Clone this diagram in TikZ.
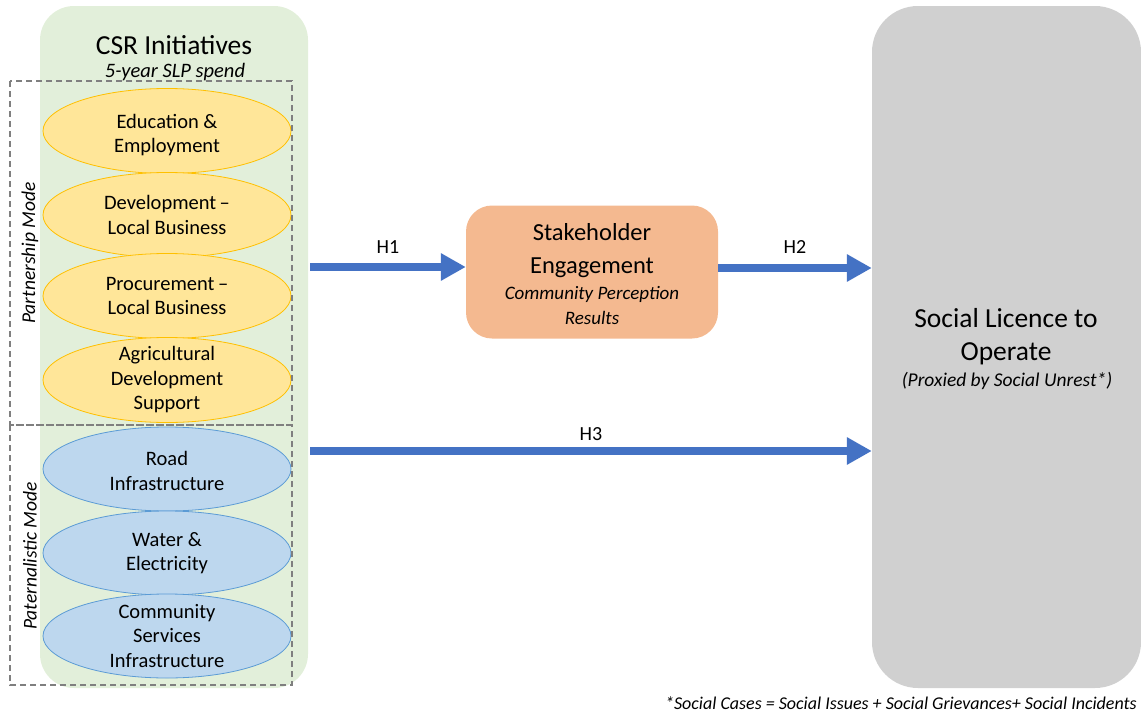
\documentclass[tikz,border=0pt]{standalone}
\usepackage{fontspec}
\setmainfont{Carlito}
\usetikzlibrary{arrows.meta,shapes.geometric}
\definecolor{csrgreen}{HTML}{E2EFDA}
\definecolor{partfill}{HTML}{FFE699}
\definecolor{partline}{HTML}{FFC000}
\definecolor{patfill}{HTML}{BDD7EE}
\definecolor{patline}{HTML}{5B9BD5}
\definecolor{engfill}{HTML}{F4B990}
\definecolor{slofill}{HTML}{D0D0D0}
\definecolor{hblue}{HTML}{4472C4}
\definecolor{modegray}{HTML}{7F7F7F}
\newcommand{\fs}[1]{\fontsize{#1}{1.22\dimexpr #1pt\relax}\selectfont}
\newcommand{\fsl}[2]{\fontsize{#1}{#2}\selectfont}
\begin{document}
\begin{tikzpicture}[x=1pt,y=-1pt,
  txt/.style={inner sep=0pt,align=center,font=\fsl{20.5}{24.5}},
  partell/.style={ellipse,draw=partline,fill=partfill,line width=0.8pt,
    minimum width=248pt,minimum height=85pt,inner sep=0pt},
  patell/.style={ellipse,draw=patline,fill=patfill,line width=0.8pt,
    minimum width=248pt,minimum height=84pt,inner sep=0pt},
  modebox/.style={draw=modegray,line width=1.3pt,dash pattern=on 6pt off 4pt},
  harrow/.style={draw=hblue,line width=8pt,-{Triangle[length=25pt,width=26pt]}},
  hlabel/.style={inner sep=0pt,font=\fs{20}}]
\useasboundingbox (0,0) rectangle (1141,712);

% CSR initiatives panel
\node[fill=csrgreen,rounded corners=34pt,minimum width=268pt,minimum height=682pt,inner sep=0pt] (csr) at (174,347) {};
\node[txt,font=\fs{27.5}] (csrtitle) at (174,45) {CSR Initiatives};
\node[txt,font=\fs{20.5}\itshape] (csrsub) at (175,72) {5-year SLP spend};

% partnership-mode initiatives
\node[partell] (edu) at (167,131) {};
\node[txt] at (167,135) {Education \&\\Employment};
\node[partell] (dev) at (167,215) {};
\node[txt] at (dev) {Development\,--\\Local Business};
\node[partell] (proc) at (167,296) {};
\node[txt] at (proc) {Procurement\,--\\Local Business};
\node[partell] (agri) at (167,380) {};
\node[txt] at (agri) {Agricultural\\Development\\Support};

% paternalistic-mode initiatives
\node[patell] (road) at (167,469) {};
\node[txt] at (167,471) {Road\\Infrastructure};
\node[patell] (water) at (167,553) {};
\node[txt] at (water) {Water \&\\Electricity};
\node[patell] (comm) at (167,636) {};
\node[txt] at (comm) {Community\\Services\\Infrastructure};

% mode groupings
\draw[modebox] (10,81) rectangle (292,425);
\draw[modebox] (10,425) rectangle (292,685);
\node[txt,font=\fs{19.5}\itshape,rotate=90] (partmode) at (30,253) {Partnership Mode};
\node[txt,font=\fs{19.5}\itshape,rotate=90] (patmode) at (30,556) {Paternalistic Mode};

% stakeholder engagement
\node[fill=engfill,rounded corners=26pt,minimum width=252pt,minimum height=133pt,inner sep=0pt] (se) at (592,272) {};
\node[txt,font=\fsl{24.5}{33}] at (592,251) {Stakeholder\\Engagement};
\node[txt,font=\fsl{19}{25}\itshape] at (592,306) {Community Perception\\Results};

% social licence to operate
\node[fill=slofill,rounded corners=46pt,minimum width=269pt,minimum height=682pt,inner sep=0pt] (slo) at (1006.5,347) {};
\node[txt,font=\fsl{27.5}{33}] at (1006,337) {Social Licence to\\Operate};
\node[txt,font=\fs{19.5}\itshape] at (1007,381) {(Proxied by Social Unrest*)};

% hypothesised paths
\coordinate (h1s) at (310,267);
\coordinate (h2s) at (718,268);
\coordinate (h3s) at (310,451);
\draw[harrow] (h1s) -- (h1s -| se.west);
\draw[harrow] (h2s) -- (h2s -| slo.west);
\draw[harrow] (h3s) -- (h3s -| slo.west);
\node[hlabel] (h1) at (388,247) {H1};
\node[hlabel] (h2) at (795,247) {H2};
\node[hlabel] (h3) at (591,434) {H3};

% footnote
\node[inner sep=0pt,anchor=east,font=\fs{18}\itshape] (note) at (1137,703) {*Social Cases = Social Issues + Social Grievances+ Social Incidents};
\end{tikzpicture}
\end{document}
